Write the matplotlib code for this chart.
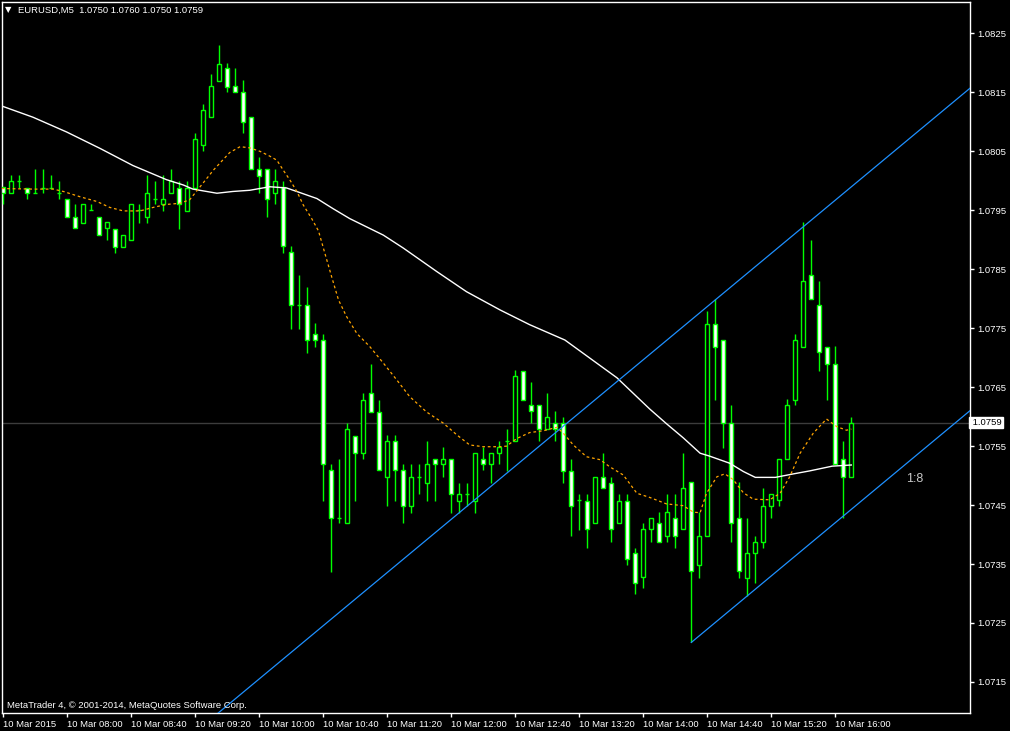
import matplotlib
matplotlib.use('Agg')
import matplotlib.pyplot as plt
from matplotlib.patches import Rectangle
import matplotlib.transforms as mtransforms
import numpy as np

# ---------------- data (EURUSD M5, 10 Mar 2015 07:20 - 16:10) ----------------
opens = [
    1.07989, 1.07979, 1.07999, 1.07988, 1.07979, 1.07988, 1.07988, 1.07979, 1.07970, 1.07939,
    1.07929, 1.07951, 1.07939, 1.07920, 1.07919, 1.07888, 1.07899, 1.07951, 1.07939, 1.07969,
    1.07960, 1.07979, 1.07988, 1.07949, 1.07988, 1.08060, 1.08109, 1.08170, 1.08191, 1.08161,
    1.08150, 1.08109, 1.08020, 1.08020, 1.07979, 1.07989, 1.07879, 1.07789, 1.07789, 1.07740,
    1.07730, 1.07510, 1.07428, 1.07419, 1.07568, 1.07538, 1.07640, 1.07608, 1.07498, 1.07558,
    1.07510, 1.07448, 1.07498, 1.07488, 1.07529, 1.07519, 1.07529, 1.07457, 1.07468, 1.07457,
    1.07529, 1.07519, 1.07538, 1.07558, 1.07558, 1.07678, 1.07619, 1.07619, 1.07579, 1.07589,
    1.07589, 1.07508, 1.07458, 1.07457, 1.07419, 1.07498, 1.07488, 1.07419, 1.07457, 1.07368,
    1.07328, 1.07409, 1.07419, 1.07398, 1.07428, 1.07409, 1.07489, 1.07348, 1.07398, 1.07758,
    1.07730, 1.07589, 1.07428, 1.07327, 1.07368, 1.07388, 1.07449, 1.07459, 1.07529, 1.07628,
    1.07719, 1.07840, 1.07789, 1.07719, 1.07689, 1.07529, 1.07498]
closes = [
    1.07979, 1.07999, 1.07999, 1.07979, 1.07979, 1.07988, 1.07988, 1.07979, 1.07939, 1.07920,
    1.07960, 1.07951, 1.07909, 1.07930, 1.07888, 1.07909, 1.07960, 1.07951, 1.07979, 1.07969,
    1.07969, 1.07999, 1.07961, 1.07988, 1.08071, 1.08120, 1.08161, 1.08199, 1.08160, 1.08150,
    1.08099, 1.08020, 1.08009, 1.07969, 1.08000, 1.07890, 1.07789, 1.07789, 1.07730, 1.07730,
    1.07519, 1.07428, 1.07428, 1.07579, 1.07538, 1.07629, 1.07608, 1.07510, 1.07558, 1.07510,
    1.07448, 1.07498, 1.07498, 1.07519, 1.07519, 1.07529, 1.07468, 1.07468, 1.07468, 1.07538,
    1.07519, 1.07538, 1.07548, 1.07558, 1.07669, 1.07629, 1.07609, 1.07579, 1.07599, 1.07579,
    1.07508, 1.07448, 1.07458, 1.07409, 1.07498, 1.07479, 1.07409, 1.07457, 1.07358, 1.07317,
    1.07409, 1.07428, 1.07388, 1.07438, 1.07398, 1.07479, 1.07338, 1.07398, 1.07758, 1.07719,
    1.07589, 1.07419, 1.07338, 1.07368, 1.07388, 1.07449, 1.07468, 1.07529, 1.07620, 1.07730,
    1.07830, 1.07799, 1.07709, 1.07689, 1.07519, 1.07498, 1.07589]
highs = [
    1.07990, 1.08010, 1.08010, 1.07988, 1.08020, 1.08020, 1.08010, 1.08000, 1.07970, 1.07961,
    1.07960, 1.07961, 1.07939, 1.07930, 1.07919, 1.07909, 1.07960, 1.07960, 1.08010, 1.08000,
    1.08010, 1.08020, 1.07999, 1.07999, 1.08081, 1.08130, 1.08181, 1.08230, 1.08200, 1.08191,
    1.08171, 1.08109, 1.08041, 1.08020, 1.08020, 1.08000, 1.07890, 1.07840, 1.07820, 1.07759,
    1.07740, 1.07520, 1.07529, 1.07589, 1.07568, 1.07640, 1.07689, 1.07629, 1.07569, 1.07569,
    1.07519, 1.07519, 1.07519, 1.07558, 1.07529, 1.07548, 1.07529, 1.07488, 1.07488, 1.07538,
    1.07548, 1.07538, 1.07558, 1.07579, 1.07679, 1.07678, 1.07658, 1.07619, 1.07640, 1.07609,
    1.07599, 1.07529, 1.07468, 1.07468, 1.07498, 1.07538, 1.07498, 1.07468, 1.07468, 1.07378,
    1.07419, 1.07428, 1.07438, 1.07468, 1.07468, 1.07538, 1.07489, 1.07438, 1.07779, 1.07800,
    1.07730, 1.07620, 1.07489, 1.07428, 1.07398, 1.07479, 1.07468, 1.07529, 1.07630, 1.07740,
    1.07931, 1.07900, 1.07830, 1.07719, 1.07720, 1.07559, 1.07599]
lows = [
    1.07961, 1.07979, 1.07988, 1.07969, 1.07979, 1.07979, 1.07988, 1.07969, 1.07939, 1.07920,
    1.07929, 1.07951, 1.07909, 1.07899, 1.07878, 1.07888, 1.07899, 1.07929, 1.07929, 1.07960,
    1.07949, 1.07979, 1.07919, 1.07949, 1.07988, 1.08050, 1.08109, 1.08170, 1.08150, 1.08150,
    1.08081, 1.08020, 1.07979, 1.07939, 1.07960, 1.07878, 1.07749, 1.07749, 1.07708, 1.07719,
    1.07457, 1.07337, 1.07419, 1.07419, 1.07457, 1.07529, 1.07608, 1.07510, 1.07448, 1.07457,
    1.07419, 1.07437, 1.07468, 1.07457, 1.07457, 1.07498, 1.07437, 1.07437, 1.07448, 1.07437,
    1.07510, 1.07488, 1.07520, 1.07508, 1.07558, 1.07629, 1.07589, 1.07558, 1.07579, 1.07558,
    1.07488, 1.07398, 1.07408, 1.07378, 1.07419, 1.07479, 1.07388, 1.07419, 1.07348, 1.07299,
    1.07309, 1.07388, 1.07388, 1.07388, 1.07378, 1.07409, 1.07217, 1.07327, 1.07398, 1.07628,
    1.07547, 1.07388, 1.07327, 1.07296, 1.07317, 1.07378, 1.07428, 1.07449, 1.07529, 1.07619,
    1.07719, 1.07799, 1.07678, 1.07628, 1.07519, 1.07428, 1.07498]

# slow moving average (white), read at bar positions
slow_ma_bar = [-0.2, 3.7, 7.9, 12.1, 16.2, 18.3, 20.4, 22.5, 23.7, 26.7, 28.7, 30.8, 33.3,
               35.4, 37.1, 39.2, 41.2, 43.3, 45.4, 47.5, 50.0, 54.2, 57.9, 62.1, 65.8, 70.2,
               76.7, 80.8, 82.9, 85.0, 87.1, 88.3, 90.8, 92.5, 94.0, 96.5, 98.8, 100.8, 103.6, 106.0]
slow_ma_val = [1.08127, 1.08108, 1.08083, 1.08055, 1.08026, 1.08014, 1.08002, 1.07993, 1.07986,
               1.07979, 1.07982, 1.07984, 1.07990, 1.07988, 1.07980, 1.07970, 1.07953, 1.07936,
               1.07922, 1.07908, 1.07886, 1.07846, 1.07812, 1.07781, 1.07756, 1.07730, 1.07666,
               1.07613, 1.07588, 1.07564, 1.07538, 1.07533, 1.07521, 1.07507, 1.07497, 1.07497,
               1.07503, 1.07508, 1.07516, 1.07518]

# fast moving average (orange, dotted)
fast_ma_bar = [-0.2, 3.75, 6.25, 7.5, 9.6, 11.7, 13.3, 15.0, 17.1, 18.75, 20.4, 22.1, 23.3, 24.6,
               26.25, 28.3, 29.6, 30.8, 32.1, 33.3, 34.2, 35.0, 35.8, 36.7, 37.5, 38.55, 39.4,
               40.2, 41.05, 41.9, 42.9, 44.2, 45.8, 47.5, 49.2, 50.8, 52.9, 55.0, 56.7, 58.3,
               60.0, 62.1, 62.9, 64.2, 65.8, 67.5, 69.2, 70.0, 71.25, 72.9, 74.6, 75.8, 77.5,
               79.2, 80.8, 82.9, 85.0, 86.25, 87.1, 87.9, 89.2, 90.2, 91.25, 92.5, 93.75, 95.8,
               97.1, 98.3, 99.6, 101.25, 102.9, 104.2, 105.4, 106.0]
fast_ma_val = [1.07987, 1.07986, 1.07986, 1.07982, 1.07973, 1.07965, 1.07955, 1.07949, 1.07949,
               1.07955, 1.07960, 1.07962, 1.07968, 1.07990, 1.08018, 1.08048, 1.08058, 1.08056,
               1.08050, 1.08042, 1.08035, 1.08018, 1.08002, 1.07982, 1.07959, 1.07936, 1.07915,
               1.07877, 1.07837, 1.07798, 1.07770, 1.07741, 1.07719, 1.07691, 1.07662, 1.07634,
               1.07608, 1.07589, 1.07569, 1.07552, 1.07549, 1.07549, 1.07550, 1.07563, 1.07573,
               1.07576, 1.07582, 1.07572, 1.07552, 1.07532, 1.07527, 1.07515, 1.07501, 1.07470,
               1.07463, 1.07452, 1.07449, 1.07438, 1.07437, 1.07470, 1.07498, 1.07503, 1.07493,
               1.07471, 1.07460, 1.07459, 1.07470, 1.07498, 1.07538, 1.07572, 1.07596, 1.07583,
               1.07577, 1.07579]

# trend channel (two anchor points each)
channel_upper_bar = [24.0, 121.0]
channel_upper_val = [1.07065, 1.08159]
channel_lower_bar = [86.0, 121.0]
channel_lower_val = [1.07217, 1.07612]

bid_price = 1.0759
y_ticks = [1.0715, 1.0725, 1.0735, 1.0745, 1.0755, 1.0765, 1.0775, 1.0785,
           1.0795, 1.0805, 1.0815, 1.0825]
x_tick_bars = [0, 8, 16, 24, 32, 40, 48, 56, 64, 72, 80, 88, 96, 104]
x_tick_labels = ["10 Mar 2015", "10 Mar 08:00", "10 Mar 08:40", "10 Mar 09:20",
                 "10 Mar 10:00", "10 Mar 10:40", "10 Mar 11:20", "10 Mar 12:00",
                 "10 Mar 12:40", "10 Mar 13:20", "10 Mar 14:00", "10 Mar 14:40",
                 "10 Mar 15:20", "10 Mar 16:00"]
header = "EURUSD,M5  1.0750 1.0760 1.0750 1.0759"
footer = "MetaTrader 4, \u00a9 2001-2014, MetaQuotes Software Corp."
ratio_label = "1:8"

# ---------------- drawing ----------------
FONT = ['Liberation Sans', 'DejaVu Sans']
plt.rcParams['font.family'] = FONT
FS = 6.8
W, H = 1010, 731
fig = plt.figure(figsize=(W / 100, H / 100), dpi=100, facecolor='black')
ax = fig.add_axes([2 / W, 18 / H, 968 / W, 711 / H])
ax.set_facecolor('black')

GREEN = '#00ff00'
n = len(opens)
xs = np.arange(n)

ax.axhline(bid_price, color='#3c3c3c', lw=1, zorder=1)

ax.vlines(xs, lows, highs, color=GREEN, lw=1.0, zorder=3, snap=True)
for i in range(n):
    o, c = opens[i], closes[i]
    face = 'white' if c < o else 'black'
    ax.add_patch(Rectangle((i - 0.25, min(o, c)), 0.5, abs(c - o),
                           facecolor=face, edgecolor=GREEN, lw=1.0, zorder=4,
                           snap=True))

ax.plot(slow_ma_bar, slow_ma_val, color='white', lw=1.0, zorder=5)
ax.plot(fast_ma_bar, fast_ma_val, color='#ffa500', lw=0.9,
        linestyle=(0, (2.2, 2.2)), zorder=5)

ax.plot(channel_upper_bar, channel_upper_val, color='#1e90ff', lw=0.9, zorder=6)
ax.plot(channel_lower_bar, channel_lower_val, color='#1e90ff', lw=0.9, zorder=6)

ax.set_xlim(-0.1625, 120.8375)
ax.set_ylim(1.070973, 1.083034)

for s in ax.spines.values():
    s.set_color('white')
    s.set_linewidth(1)

ax.yaxis.tick_right()
ax.set_yticks(y_ticks)
ax.set_yticklabels([f"{v:.4f}" for v in y_ticks])
ax.set_xticks(x_tick_bars)
ax.set_xticklabels(x_tick_labels, ha='left')
ax.tick_params(axis='both', colors='white', labelcolor='white', labelsize=FS,
               length=3, width=1, direction='out')
ax.tick_params(axis='y', pad=2.5)
ax.tick_params(axis='x', pad=2)

# bid price label on the axis
trans = mtransforms.blended_transform_factory(ax.transAxes, ax.transData)
ax.text(1.0, bid_price, " 1.0759", transform=trans, color='black', fontsize=FS,
        va='center', ha='left', clip_on=False, zorder=10,
        bbox=dict(boxstyle='square,pad=0.15', fc='white', ec='white'))

fig.text(5 / W, 1 - 10 / H, "\u25bc", color='white', fontsize=6, va='center',
         ha='left', family=['DejaVu Sans'])
fig.text(18 / W, 1 - 10 / H, header, color='white', fontsize=FS, va='center', ha='left')
fig.text(7 / W, 1 - 706 / H, footer, color='white', fontsize=FS, va='center', ha='left')
fig.text(906 / W, 1 - 479 / H, ratio_label, color='#c8c8c8', fontsize=9, va='center', ha='left')

fig.savefig('out.png', dpi=100, facecolor='black')
